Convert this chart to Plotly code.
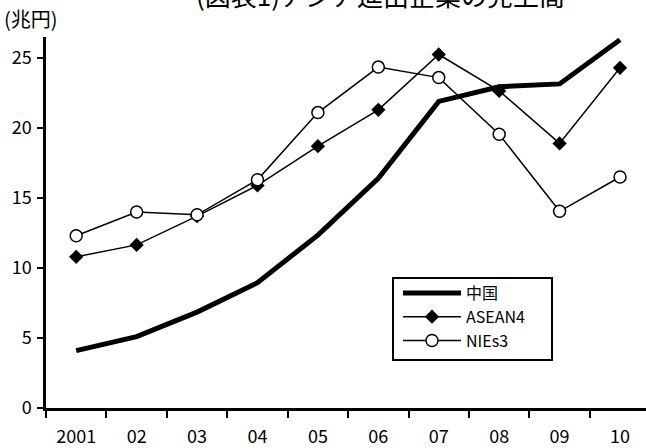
import plotly.graph_objects as go

years = ["2001", "02", "03", "04", "05", "06", "07", "08", "09", "10"]
china = [4.1, 5.1, 6.85, 8.95, 12.35, 16.4, 21.9, 22.95, 23.15, 26.3]
asean4 = [10.8, 11.65, 13.7, 15.9, 18.7, 21.3, 25.25, 22.65, 18.9, 24.3]
nies3 = [12.3, 14.0, 13.8, 16.3, 21.1, 24.35, 23.6, 19.55, 14.05, 16.5]

FONT = "Noto Sans CJK JP"
PW, PH, L, T = 600, 371, 46, 37


def px_x(px):
    return (px - L) / PW


def px_y(py):
    return (T + PH - py) / PH


fig = go.Figure()
fig.add_trace(go.Scatter(
    x=years, y=china, name="中国", mode="lines",
    line=dict(color="black", width=5),
))
fig.add_trace(go.Scatter(
    x=years, y=asean4, name="ASEAN4", mode="lines+markers",
    line=dict(color="black", width=1.5),
    marker=dict(symbol="diamond", size=11, color="black"),
))
fig.add_trace(go.Scatter(
    x=years, y=nies3, name="NIEs3", mode="lines+markers",
    line=dict(color="black", width=1.5),
    marker=dict(symbol="circle", size=12, color="white",
                line=dict(color="black", width=1.5)),
))

fig.update_layout(
    width=646, height=448,
    margin=dict(l=L, r=0, t=T, b=40),
    paper_bgcolor="white", plot_bgcolor="white",
    font=dict(family=FONT, size=16, color="black"),
    showlegend=True,
    legend=dict(
        x=px_x(398), y=px_y(276), xanchor="left", yanchor="top",
        borderwidth=0, bgcolor="rgba(0,0,0,0)",
        font=dict(family=FONT, size=16, color="black"),
        tracegroupgap=0, itemwidth=58,
    ),
    shapes=[
        dict(type="rect", xref="paper", yref="paper",
             x0=px_x(393), x1=px_x(552), y0=px_y(360), y1=px_y(278),
             line=dict(color="black", width=2), fillcolor="white", layer="above"),
    ],
    xaxis=dict(
        type="category", range=[-0.5, 9.43],
        tickson="boundaries", ticks="outside", ticklen=7, tickwidth=2,
        tickcolor="black", showline=True, linecolor="black", linewidth=2.5,
        showgrid=False, zeroline=False, ticklabelstandoff=11,
        tickfont=dict(family=FONT, size=18, color="black"),
    ),
    yaxis=dict(
        range=[0, 26.5], tickvals=[0, 5, 10, 15, 20, 25],
        ticks="outside", ticklen=6, tickwidth=2, tickcolor="black",
        showline=True, linecolor="black", linewidth=2.5,
        showgrid=False, zeroline=False, ticklabelstandoff=2,
        tickfont=dict(family=FONT, size=18, color="black"),
    ),
    annotations=[
        dict(text="(兆円)", xref="paper", yref="paper", x=0, y=1,
             xanchor="left", yanchor="bottom", xshift=-44, yshift=2,
             showarrow=False, font=dict(family=FONT, size=20, color="black")),
        dict(text="(図表1)アジア進出企業の売上高", xref="paper", yref="paper",
             x=px_x(380), y=px_y(0), xanchor="center", yanchor="middle",
             yshift=5, showarrow=False,
             font=dict(family=FONT, size=26, color="black")),
    ],
)

fig.write_html("out.html")
